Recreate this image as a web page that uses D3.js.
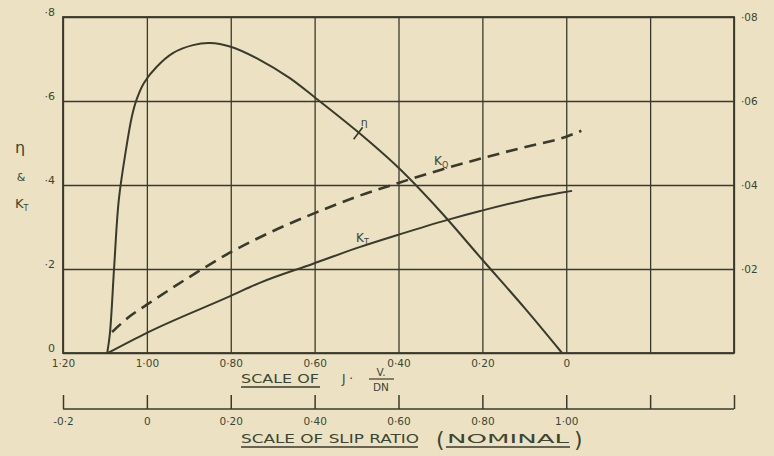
<!DOCTYPE html>
<html>
<head>
<meta charset="utf-8">
<script src="https://cdn.jsdelivr.net/npm/d3@7"></script>
<style>
  body { margin: 0; background: #ece2c3; }
  svg { display: block; }
  .lbl { font-family: "DejaVu Sans", sans-serif; fill: #3b4632; }
</style>
</head>
<body>
<svg id="chart" width="774" height="456"></svg>
<script>
// ---- data ----
var etaJ   = [1.0945, 1.088, 1.078, 1.067, 1.05, 1.036, 1.025, 1.007, 0.977, 0.938, 0.89, 0.85, 0.80, 0.731, 0.66, 0.60, 0.50, 0.40, 0.30, 0.20, 0.10, 0.01];
var etaVal = [0, 0.048, 0.205, 0.364, 0.483, 0.562, 0.602, 0.643, 0.681, 0.714, 0.733, 0.738, 0.729, 0.698, 0.655, 0.609, 0.529, 0.441, 0.337, 0.222, 0.108, 0];

var ktJ    = [1.093, 1.0, 0.8, 0.731, 0.605, 0.493, 0.402, 0.283, 0.205, 0.017, -0.014];
var ktVal  = [0, 0.048, 0.136, 0.167, 0.212, 0.252, 0.281, 0.317, 0.338, 0.381, 0.386];

var kqJ    = [1.083, 1.04, 1.0, 0.9, 0.8, 0.7, 0.6, 0.5, 0.4, 0.3, 0.2, 0.1, 0.0, -0.036];
var kqVal  = [0.005, 0.0088, 0.0115, 0.018, 0.024, 0.029, 0.0333, 0.0372, 0.0405, 0.0436, 0.0464, 0.049, 0.0515, 0.0529];

var jTicks     = [1.2, 1.0, 0.8, 0.6, 0.4, 0.2, 0, -0.2, -0.4];
var leftTicks  = [0, 0.2, 0.4, 0.6, 0.8];
var rightTicks = [0.02, 0.04, 0.06, 0.08];
var slipTicks  = [-0.2, 0, 0.2, 0.4, 0.6, 0.8, 1.0, 1.2, 1.4];

// ---- layout ----
var margin = { top: 17, left: 63, right: 40, bottom: 103 };
var width = 774, height = 456;
var plotW = width - margin.left - margin.right;   // 671
var plotH = height - margin.top - margin.bottom;  // 336
var ink = "#3a3a2c";

var svg = d3.select("#chart");
svg.append("rect").attr("width", width).attr("height", height).attr("fill", "#ece2c3");

var x = d3.scaleLinear().domain([1.2, -0.4]).range([margin.left, margin.left + plotW]);
var y = d3.scaleLinear().domain([0, 0.8]).range([margin.top + plotH, margin.top]);
var yR = d3.scaleLinear().domain([0, 0.08]).range([margin.top + plotH, margin.top]);
var xSlip = d3.scaleLinear().domain([-0.2, 1.4]).range([margin.left, margin.left + plotW]);

function fmtJ(d) {
    if (d < 0) return "";
    if (d === 0) return "0";
    return d.toFixed(2).replace(".", "·");
}

// gridlines + tick labels
svg.append("g")
    .attr("transform", "translate(0," + (margin.top + plotH) + ")")
    .call(d3.axisBottom(x).tickValues(jTicks).tickSize(-plotH).tickFormat(fmtJ).tickPadding(7))
    .call(g => g.select(".domain").remove())
    .call(g => g.selectAll(".tick line").attr("stroke", ink).attr("stroke-width", 1.3))
    .call(g => g.selectAll(".tick text").attr("class", "lbl").style("font-size", "10.5px"));

svg.append("g")
    .attr("transform", "translate(" + margin.left + ",0)")
    .call(d3.axisLeft(y).tickValues(leftTicks).tickSize(-plotW).tickPadding(8)
        .tickFormat(d => d === 0 ? "0" : "·" + Math.round(d * 10)))
    .call(g => g.select(".domain").remove())
    .call(g => g.selectAll(".tick line").attr("stroke", ink).attr("stroke-width", 1.3))
    .call(g => g.selectAll(".tick text").attr("class", "lbl").style("font-size", "11px").attr("dy", "-0.1em"));

svg.append("g")
    .attr("transform", "translate(" + (margin.left + plotW) + ",0)")
    .call(d3.axisRight(yR).tickValues(rightTicks).tickSize(0).tickPadding(7)
        .tickFormat(d => "·0" + Math.round(d * 100)))
    .call(g => g.select(".domain").remove())
    .call(g => g.selectAll(".tick text").attr("class", "lbl").style("font-size", "10.5px"));

// frame
svg.append("rect")
    .attr("x", margin.left).attr("y", margin.top)
    .attr("width", plotW).attr("height", plotH)
    .attr("fill", "none").attr("stroke", ink).attr("stroke-width", 1.8);

// curves
var lineEta = d3.line().x(d => x(d[0])).y(d => y(d[1])).curve(d3.curveCatmullRom.alpha(0.5));
var lineL = d3.line().x(d => x(d[0])).y(d => y(d[1])).curve(d3.curveMonotoneX);
var lineR = d3.line().x(d => x(d[0])).y(d => yR(d[1])).curve(d3.curveMonotoneX);

svg.append("path").datum(d3.zip(etaJ, etaVal))
    .attr("d", lineEta).attr("fill", "none").attr("stroke", ink).attr("stroke-width", 2);
svg.append("path").datum(d3.zip(ktJ, ktVal))
    .attr("d", lineL).attr("fill", "none").attr("stroke", ink).attr("stroke-width", 2);
svg.append("path").datum(d3.zip(kqJ, kqVal))
    .attr("d", lineR).attr("fill", "none").attr("stroke", ink).attr("stroke-width", 2.6)
    .attr("stroke-dasharray", "12,7");

// curve labels
var etaMarkJ = 0.495, etaMarkV = 0.523;
svg.append("line")
    .attr("x1", x(etaMarkJ) - 5).attr("y1", y(etaMarkV) + 6)
    .attr("x2", x(etaMarkJ) + 4).attr("y2", y(etaMarkV) - 6)
    .attr("stroke", ink).attr("stroke-width", 1.6);
svg.append("text").attr("class", "lbl").attr("x", x(etaMarkJ) + 2).attr("y", y(etaMarkV) - 7)
    .style("font-size", "11px").text("η");
svg.append("text").attr("class", "lbl").attr("x", 356).attr("y", 242).style("font-size", "12px")
    .html('K<tspan dy="3" font-size="8">T</tspan>');
svg.append("text").attr("class", "lbl").attr("x", 434).attr("y", 165).style("font-size", "12px")
    .html('K<tspan dy="3" font-size="8">Q</tspan>');

// left axis title
svg.append("text").attr("class", "lbl").attr("x", 20).attr("y", 153).attr("text-anchor", "middle")
    .style("font-size", "16px").text("η");
svg.append("text").attr("class", "lbl").attr("x", 21).attr("y", 181).attr("text-anchor", "middle")
    .style("font-size", "11px").text("&");
svg.append("text").attr("class", "lbl").attr("x", 15).attr("y", 208).style("font-size", "13px")
    .html('K<tspan dy="3" font-size="8">T</tspan>');

// J title
svg.append("text").attr("class", "lbl").attr("x", 241).attr("y", 383)
    .style("font-size", "12px").attr("textLength", 78).attr("lengthAdjust", "spacingAndGlyphs").text("SCALE  OF");
svg.append("line").attr("x1", 241).attr("x2", 320).attr("y1", 387).attr("y2", 387)
    .attr("stroke", ink).attr("stroke-width", 1.5);
svg.append("text").attr("class", "lbl").attr("x", 342).attr("y", 383).style("font-size", "12px").text("J ·");
svg.append("text").attr("class", "lbl").attr("x", 381).attr("y", 376).attr("text-anchor", "middle")
    .style("font-size", "10.5px").text("V.");
svg.append("line").attr("x1", 369).attr("x2", 394).attr("y1", 379).attr("y2", 379)
    .attr("stroke", ink).attr("stroke-width", 1.2);
svg.append("text").attr("class", "lbl").attr("x", 381).attr("y", 391).attr("text-anchor", "middle")
    .style("font-size", "10.5px").text("DN");

// slip ratio scale
var slipY = 409;
svg.append("g")
    .attr("transform", "translate(0," + slipY + ")")
    .call(d3.axisTop(xSlip).tickValues(slipTicks).tickSize(14).tickFormat(""))
    .call(g => g.select(".domain").attr("d", "M" + margin.left + ",0H" + (margin.left + plotW)))
    .call(g => g.selectAll("path, line").attr("stroke", ink).attr("stroke-width", 1.5));

svg.append("g")
    .attr("transform", "translate(0," + slipY + ")")
    .call(d3.axisBottom(xSlip).tickValues(slipTicks).tickSize(0).tickPadding(9)
        .tickFormat(d => d > 1.01 ? "" : (d === 0 ? "0" : (d < 0 ? "-0·2" : d.toFixed(2).replace(".", "·")))))
    .call(g => g.select(".domain").remove())
    .call(g => g.selectAll(".tick text").attr("class", "lbl").style("font-size", "10.5px"));

svg.append("text").attr("class", "lbl").attr("x", 241).attr("y", 443)
    .style("font-size", "12px").attr("textLength", 178).attr("lengthAdjust", "spacingAndGlyphs")
    .text("SCALE  OF  SLIP  RATIO");
svg.append("line").attr("x1", 241).attr("x2", 418).attr("y1", 447).attr("y2", 447)
    .attr("stroke", ink).attr("stroke-width", 1.5);
svg.append("text").attr("class", "lbl").attr("x", 436).attr("y", 447)
    .style("font-size", "22px").text("(");
svg.append("text").attr("class", "lbl").attr("x", 447).attr("y", 443)
    .style("font-size", "12px").attr("textLength", 122).attr("lengthAdjust", "spacingAndGlyphs").text("NOMINAL");
svg.append("line").attr("x1", 446).attr("x2", 570).attr("y1", 447).attr("y2", 447)
    .attr("stroke", ink).attr("stroke-width", 1.5);
svg.append("text").attr("class", "lbl").attr("x", 574).attr("y", 447)
    .style("font-size", "22px").text(")");
</script>
</body>
</html>
